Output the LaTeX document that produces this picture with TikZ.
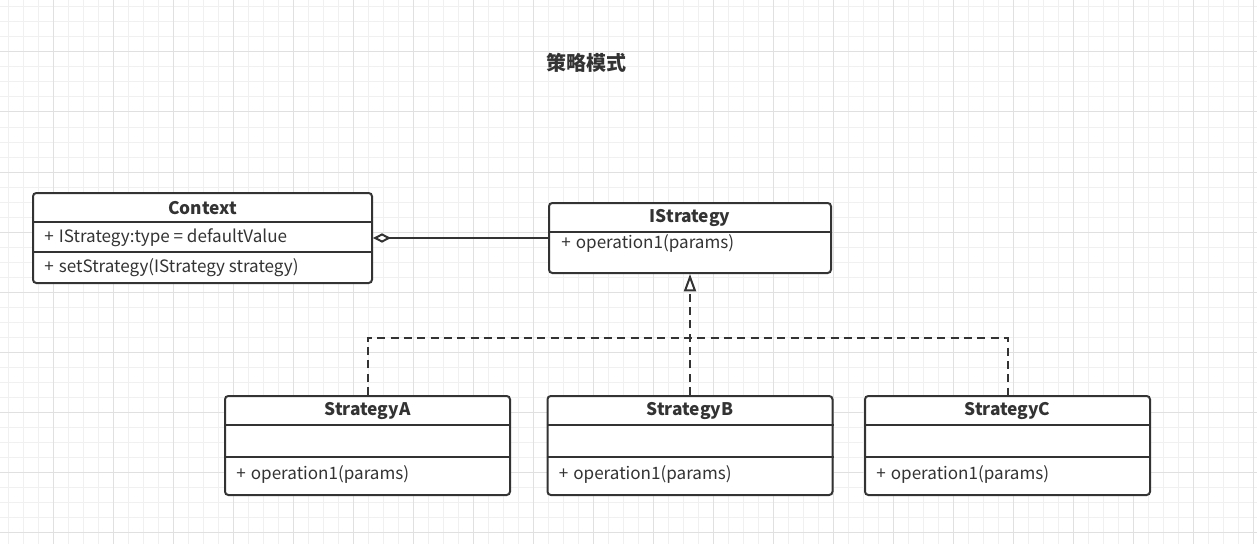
\documentclass[tikz,border=0pt]{standalone}
\usepackage{fontspec}
\setmainfont{Noto Sans CJK SC}
\newfontfamily\cjkfont{Noto Sans CJK SC}
\usepackage{xcolor}
\usepackage{tikz}
\usetikzlibrary{arrows.meta, positioning, calc}
\definecolor{LineDark}{RGB}{51, 51, 51}
\definecolor{GridMinor}{RGB}{240, 240, 240}
\definecolor{GridMajor}{RGB}{224, 224, 224}
\newcommand{\pub}{+\hspace{0.3em}}

\tikzset{
  classbox/.style={draw=LineDark, line width=1.5pt, fill=white, rounded corners=2.5pt, inner sep=0pt},
  classname/.style={font=\bfseries\fontsize{13}{16}\selectfont, text=LineDark, inner sep=0pt},
  member/.style={font=\fontsize{12.8}{16}\selectfont, text=LineDark, anchor=west, inner sep=0pt},
  divider/.style={draw=LineDark, line width=1.5pt},
  aggregate/.style={draw=LineDark, line width=1.5pt, -{Diamond[fill=white, length=13.5pt, width=7pt]}},
  realize/.style={draw=LineDark, line width=1.5pt, dash pattern=on 6pt off 4pt},
  gridline/.style={line width=0.75pt}
}

\begin{document}
\begin{tikzpicture}[x=0.75pt, y=0.75pt]
  \useasboundingbox (0,0) rectangle (1257,544);
  \foreach \gx in {8,23,...,1257} \draw[gridline, GridMinor] (\gx,0) -- (\gx,544);
  \foreach \gy in {537,522,...,0} \draw[gridline, GridMinor] (0,\gy) -- (1257,\gy);
  \foreach \gx in {53,113,...,1257} \draw[gridline, GridMajor] (\gx,0) -- (\gx,544);
  \foreach \gy in {492,432,...,0} \draw[gridline, GridMajor] (0,\gy) -- (1257,\gy);

  \node[font=\cjkfont\bfseries\fontsize{15}{18}\selectfont, text=LineDark] (title) at (586,481) {策略模式};

  \node[classbox, minimum width=254.25pt, minimum height=67.5pt] (ctx) at (202.5,306) {};
  \node[classname] (ctx-name) at ($(ctx.north)+(0,-16)$) {Context};
  \draw[divider] ($(ctx.north west)+(0,-30)$) -- ($(ctx.north east)+(0,-30)$);
  \draw[divider] ($(ctx.north west)+(0,-60)$) -- ($(ctx.north east)+(0,-60)$);
  \node[member] (ctx-attr) at ($(ctx.north west)+(12,-46)$) {\pub IStrategy:type = defaultValue};
  \node[member] (ctx-op) at ($(ctx.north west)+(12,-76)$) {\pub setStrategy(IStrategy strategy)};

  \node[classbox, minimum width=211.5pt, minimum height=52.5pt] (istr) at (690,306) {};
  \node[classname] (istr-name) at ($(istr.north)+(0,-16)$) {IStrategy};
  \draw[divider] ($(istr.north west)+(0,-30)$) -- ($(istr.north east)+(0,-30)$);
  \node[member] (istr-op) at ($(istr.north west)+(13,-41)$) {\pub operation1(params)};

  \foreach \sname/\sx in {A/367.5, B/690, C/1007.5}{
    \node[classbox, minimum width=213.75pt, minimum height=74.25pt] (strat\sname) at (\sx,98.5) {};
    \node[classname] (strat\sname-name) at ($(strat\sname.north)+(0,-16)$) {Strategy\sname};
    \draw[divider] ($(strat\sname.north west)+(0,-30)$) -- ($(strat\sname.north east)+(0,-30)$);
    \draw[divider] ($(strat\sname.north west)+(0,-62)$) -- ($(strat\sname.north east)+(0,-62)$);
    \node[member] (strat\sname-op) at ($(strat\sname.north west)+(12,-79)$) {\pub operation1(params)};
  }

  \draw[aggregate] (istr.west) -- (ctx.east);

  \coordinate (branch) at (690,206);
  \draw[realize] (stratA.north) |- (branch) -| (stratC.north);
  \draw[realize, -{Triangle[fill=white, length=13pt, width=9pt]}] (stratB.north) -- (istr.south);
\end{tikzpicture}
\end{document}
